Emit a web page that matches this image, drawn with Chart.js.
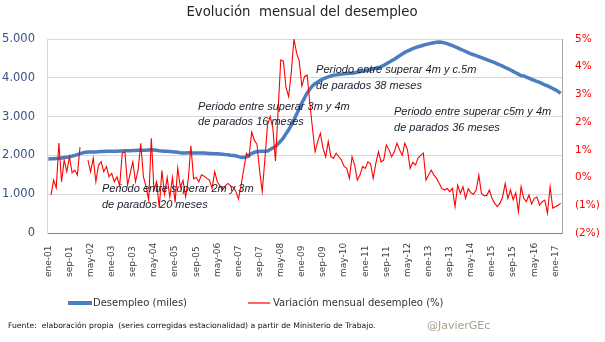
<!DOCTYPE html>
<html lang="es">
<head>
<meta charset="utf-8">
<title>Evolución mensual del desempleo</title>
<script src="https://cdn.jsdelivr.net/npm/chart.js@4.4.1/dist/chart.umd.min.js"></script>
<style>
  html, body { margin: 0; padding: 0; background: #fff; }
</style>
</head>
<body>
<canvas id="paro" width="605" height="342"></canvas>
<script>
const titulo = "Evolución  mensual del desempleo";
const MESES = ["ene", "feb", "mar", "abr", "may", "jun", "jul", "ago", "sep", "oct", "nov", "dic"];
const PRIMER_ANIO = 2001;

// paro registrado, serie corregida, en miles (ene-01 .. mar-17)
const desempleo = [
  1910, 1912, 1915, 1920, 1925, 1935, 1945, 1955, 1965, 1980, 2000, 2020,
  2045, 2065, 2080, 2085, 2085, 2090, 2090, 2095, 2100, 2100, 2105, 2105,
  2105, 2110, 2110, 2115, 2115, 2120, 2120, 2120, 2125, 2125, 2130, 2130,
  2130, 2135, 2140, 2145, 2140, 2130, 2120, 2115, 2110, 2105, 2100, 2095,
  2090, 2080, 2070, 2065, 2065, 2070, 2070, 2065, 2065, 2065, 2060, 2060,
  2055, 2050, 2050, 2045, 2040, 2035, 2030, 2020, 2015, 2005, 2000, 1990,
  1970, 1950, 1945, 1965, 2000, 2050, 2080, 2095, 2105, 2105, 2110, 2115,
  2150, 2190, 2230, 2300, 2370, 2450, 2560, 2660, 2780, 2920, 3060, 3200,
  3350, 3480, 3610, 3705, 3790, 3850, 3895, 3935, 3970, 4000, 4025, 4045,
  4065, 4075, 4085, 4095, 4105, 4110, 4115, 4120, 4130, 4145, 4160, 4170,
  4180, 4195, 4210, 4225, 4245, 4265, 4290, 4320, 4360, 4400, 4440, 4480,
  4525, 4570, 4615, 4655, 4690, 4720, 4750, 4775, 4800, 4820, 4840, 4860,
  4875, 4890, 4905, 4915, 4920, 4915, 4900, 4880, 4855, 4830, 4800, 4770,
  4740, 4710, 4680, 4650, 4615, 4595, 4570, 4545, 4520, 4495, 4470, 4440,
  4415, 4390, 4360, 4330, 4300, 4265, 4235, 4200, 4165, 4130, 4095, 4060,
  4050, 4020, 3990, 3960, 3935, 3905, 3880, 3850, 3820, 3790, 3760, 3725,
  3690, 3650, 3600
];

// variación mensual en %, sin dato en ene-01 ni en feb/mar-02
const variacion = [
  null, -0.63, -0.09, -0.37, 1.25, -0.15, 0.63, 0.21, 0.75, 0.17, 0.27, 0.09,
  1.1, null, null, 0.63, 0.21, 0.7, -0.15, 0.45, 0.57, 0.21, 0.4, 0.03,
  0.15, -0.15, 0.03, -0.3, 0.88, 0.93, -0.27, 0.15, 0.57, -0.15, 0.27, 1.24,
  0.03, -0.33, -0.81, 1.42, -0.45, -0.15, -1.1, 0.25, -0.6, 0.0, -0.7, 0.0,
  -0.9, 0.35, -0.35, -0.1, -0.7, -0.05, 1.15, -0.05, 0.0, -0.15, 0.1, 0.05,
  -0.03, -0.09, -0.39, 0.21, -0.15, -0.3, -0.45, -0.3, -0.21, -0.3, -0.35, -0.5,
  -0.78, -0.27, 0.3, 0.88, 0.75, 1.65, 1.35, 1.2, 0.25, -0.5, 0.65, 1.9,
  2.2, 1.8, 0.6, 2.4, 4.24, 4.2, 3.25, 2.92, 3.8, 5.0, 4.5, 4.2,
  3.3, 3.64, 3.7, 2.7, 1.8, 0.93, 1.3, 1.6, 1.06, 0.75, 1.3, 0.75,
  0.7, 0.88, 0.75, 0.63, 0.4, 0.33, -0.03, 0.75, 0.45, -0.09, 0.09, 0.4,
  0.33, 0.57, 0.5, -0.03, 0.51, 0.93, 0.57, 0.63, 1.18, 1.0, 0.75, 0.93,
  1.24, 1.0, 0.8, 1.24, 1.0, 0.33, 0.55, 0.45, 0.7, 0.8, 0.88, -0.09,
  0.09, 0.27, 0.09, -0.03, -0.21, -0.39, -0.45, -0.39, -0.51, -0.39, -1.05, -0.27,
  -0.57, -0.33, -0.75, -0.4, -0.55, -0.6, -0.45, 0.09, -0.57, -0.65, -0.65, -0.45,
  -0.75, -0.93, -1.05, -0.93, -0.7, -0.21, -0.75, -0.45, -0.8, -0.55, -1.23, -0.33,
  -0.75, -0.87, -0.63, -0.95, -0.75, -0.7, -0.99, -0.87, -0.81, -1.29, -0.33, -1.1,
  -1.05, -1.0, -0.93
];

const ticksMiles = [0, 1000, 2000, 3000, 4000, 5000];
const ticksPct = [-2, -1, 0, 1, 2, 3, 4, 5];
const PASO_ETIQUETA = 8; // una etiqueta cada 8 meses

// notas: [mes (índice), miles en eje izq., línea 1, línea 2]
const notas = [
  [20.3, 1135, "Periodo entre superar 2m y 3m", "de parados 20 meses"],
  [56.7, 3250, "Periodo entre superar 3m y 4m", "de parados 16 meses"],
  [101.4, 4190, "Periodo entre superar 4m y c.5m", "de parados 38 meses"],
  [130.9, 3120, "Periodo entre superar c5m y 4m", "de parados 36 meses"]
];

const fuente = "Fuente:  elaboración propia  (series corregidas estacionalidad) a partir de Ministerio de Trabajo.";
const firma = "@JavierGEc";

const etiquetas = desempleo.map((_, i) => {
  const anio = PRIMER_ANIO + Math.floor(i / 12);
  return MESES[i % 12] + "-" + String(anio % 100).padStart(2, "0");
});

const AZUL = "#4A7EBF";
const ROJO = "#FF0000";

function miles(v) {
  return String(v).replace(/\B(?=(\d{3})+(?!\d))/g, ".");
}

function pct(v) {
  return v < 0 ? "(" + (-v) + "%)" : v + "%";
}

const textos = {
  id: "textos",
  afterDraw(chart) {
    const { ctx, scales: { x, y } } = chart;
    ctx.save();

    ctx.fillStyle = "#262626";
    ctx.font = "13.3px 'DejaVu Sans'";
    ctx.textAlign = "center";
    ctx.textBaseline = "middle";
    ctx.fillText(titulo, 302, 13);

    // etiquetas del eje x, giradas y alineadas por abajo
    ctx.font = "9px 'DejaVu Sans'";
    ctx.fillStyle = "#404040";
    ctx.textAlign = "left";
    etiquetas.forEach((lab, i) => {
      if (i % PASO_ETIQUETA) return;
      ctx.save();
      ctx.translate(x.getPixelForValue(i), 277);
      ctx.rotate(-Math.PI / 2);
      ctx.fillText(lab, 0, 0);
      ctx.restore();
    });

    // notas sobre el gráfico
    ctx.font = "italic 11px 'Liberation Sans'";
    ctx.fillStyle = "#1C1C2C";
    notas.forEach(([m, v, l1, l2]) => {
      const px = x.getPixelForValue(m);
      const py = y.getPixelForValue(v);
      ctx.fillText(l1, px, py);
      ctx.fillText(l2, px, py + 15.5);
    });

    // leyenda
    ctx.font = "10px 'DejaVu Sans'";
    ctx.fillStyle = "#333333";
    ctx.lineCap = "butt";
    ctx.strokeStyle = AZUL;
    ctx.lineWidth = 4;
    ctx.beginPath();
    ctx.moveTo(68, 303);
    ctx.lineTo(92, 303);
    ctx.stroke();
    ctx.fillText("Desempleo (miles)", 93, 303);
    ctx.strokeStyle = ROJO;
    ctx.lineWidth = 1.2;
    ctx.beginPath();
    ctx.moveTo(248, 303);
    ctx.lineTo(270, 303);
    ctx.stroke();
    ctx.fillText("Variación mensual desempleo (%)", 273, 303);

    // pie
    ctx.font = "7.7px 'DejaVu Sans'";
    ctx.fillStyle = "#111111";
    ctx.fillText(fuente, 8, 326);
    ctx.font = "11px 'DejaVu Sans'";
    ctx.fillStyle = "#A89F8E";
    ctx.fillText(firma, 427, 326);

    ctx.restore();
  }
};

new Chart(document.getElementById("paro"), {
  type: "line",
  data: {
    labels: etiquetas,
    datasets: [
      {
        label: "Desempleo (miles)",
        data: desempleo,
        yAxisID: "y",
        borderColor: AZUL,
        borderWidth: 3.5,
        pointRadius: 0,
        tension: 0,
        order: 1
      },
      {
        label: "Variación mensual desempleo (%)",
        data: variacion,
        yAxisID: "y2",
        borderColor: ROJO,
        borderWidth: 1.1,
        pointRadius: 0,
        tension: 0,
        spanGaps: false,
        order: 0
      }
    ]
  },
  plugins: [textos],
  options: {
    responsive: false,
    animation: false,
    devicePixelRatio: 1,
    layout: { padding: { top: 39, bottom: 64, left: 0, right: 0 } },
    plugins: {
      legend: { display: false },
      tooltip: { enabled: false },
      title: { display: false }
    },
    scales: {
      x: {
        type: "category",
        offset: true,
        grid: { display: false, drawTicks: false },
        border: { color: "#898989", width: 1 },
        ticks: { display: false },
        afterFit: s => { s.height = 45; }
      },
      y: {
        position: "left",
        min: 0,
        max: 5000,
        afterBuildTicks: s => { s.ticks = ticksMiles.map(v => ({ value: v })); },
        grid: { color: "#D9D9D9", drawTicks: false },
        border: { color: "#D9D9D9" },
        ticks: {
          padding: 12,
          color: "#3A5288",
          font: { family: "'DejaVu Sans'", size: 11.5 },
          callback: v => miles(v)
        },
        afterFit: s => { s.width = 47; }
      },
      y2: {
        position: "right",
        min: -2,
        max: 5,
        afterBuildTicks: s => { s.ticks = ticksPct.map(v => ({ value: v })); },
        grid: { display: false, drawTicks: false },
        border: { color: "#A6A6A6" },
        ticks: {
          padding: 13,
          color: ROJO,
          font: { family: "'DejaVu Sans'", size: 10.5 },
          callback: v => pct(v)
        },
        afterFit: s => { s.width = 43; }
      }
    }
  }
});
</script>
</body>
</html>
